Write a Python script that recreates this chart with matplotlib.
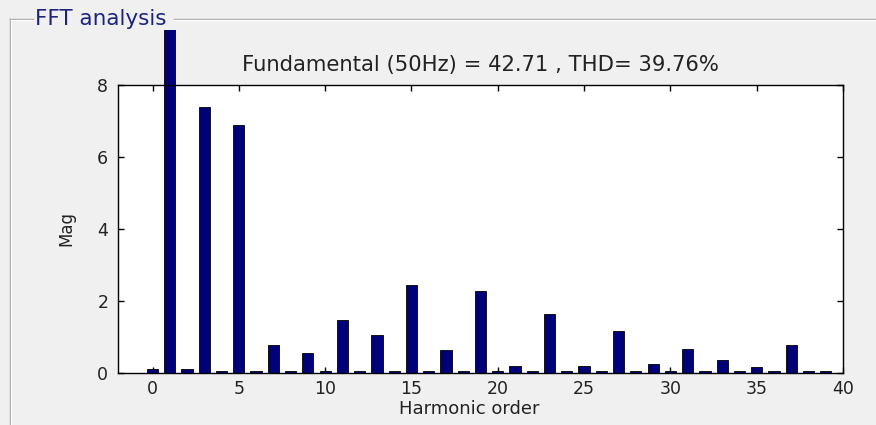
import matplotlib
matplotlib.use("Agg")
import matplotlib.pyplot as plt
from matplotlib.lines import Line2D
from matplotlib.transforms import Bbox, TransformedBbox

harmonic_order = list(range(0, 40))
magnitude = [0.12, 42.71, 0.10, 7.40, 0.06, 6.90, 0.05, 0.78, 0.05, 0.56,
             0.06, 1.46, 0.05, 1.06, 0.05, 2.44, 0.05, 0.64, 0.05, 2.28,
             0.06, 0.20, 0.05, 1.63, 0.05, 0.20, 0.05, 1.16, 0.05, 0.24,
             0.06, 0.67, 0.05, 0.36, 0.05, 0.16, 0.05, 0.78, 0.05, 0.05]
xticks = [0, 5, 10, 15, 20, 25, 30, 35, 40]
yticks = [0, 2, 4, 6, 8]
title_text = "Fundamental (50Hz) = 42.71 , THD= 39.76%"
panel_title = "FFT analysis"

W, H = 876, 425
plt.rcParams['font.family'] = ['DejaVu Sans']
fig = plt.figure(figsize=(W / 100, H / 100), dpi=100, facecolor='#f0f0f0')

ax = fig.add_axes([118 / W, 1 - 373 / H, (843 - 118) / W, (373 - 85) / H])
ax.set_facecolor('white')
bars = ax.bar(harmonic_order, magnitude, width=0.65, color='#000078',
              edgecolor='black', linewidth=0.6, zorder=2)
clip = TransformedBbox(Bbox([[0, 0], [1, 1 - 30 / H]]), fig.transFigure)
for b in bars:
    b.set_clip_box(clip)

ax.set_xlim(-2, 40)
ax.set_ylim(0, 8)
ax.set_xticks(xticks)
ax.set_yticks(yticks)
ax.tick_params(direction='in', top=True, right=True, length=4, width=1,
               labelsize=12.5, colors='black', pad=5)
ax.tick_params(axis='y', pad=7)
for lab in ax.get_xticklabels() + ax.get_yticklabels():
    lab.set_color('#222222')
for s in ax.spines.values():
    s.set_linewidth(1)
    s.set_color('black')
ax.set_xlabel("Harmonic order", fontsize=13, color='#222222')
ax.xaxis.set_label_coords(0.485, -0.095)
ax.set_ylabel("Mag", fontsize=12, labelpad=16, color='#222222')
ax.set_title(title_text, fontsize=15.2, pad=10, color='#222222')

# panel frame
y_line = 1 - 19 / H
x_line = 10 / W
for off, col in [(0, '#a0a0a0'), (1, 'white')]:
    dy = off / H
    dx = off / W
    fig.add_artist(Line2D([x_line + dx, 33 / W], [y_line - dy, y_line - dy],
                          color=col, lw=1, transform=fig.transFigure))
    fig.add_artist(Line2D([174 / W, 1], [y_line - dy, y_line - dy],
                          color=col, lw=1, transform=fig.transFigure))
    fig.add_artist(Line2D([x_line + dx, x_line + dx], [0, y_line - dy],
                          color=col, lw=1, transform=fig.transFigure))
fig.text(35 / W, y_line, panel_title, color='#1a237e', fontsize=15.5,
         ha='left', va='center')

fig.savefig("out.png", dpi=100, facecolor=fig.get_facecolor())
